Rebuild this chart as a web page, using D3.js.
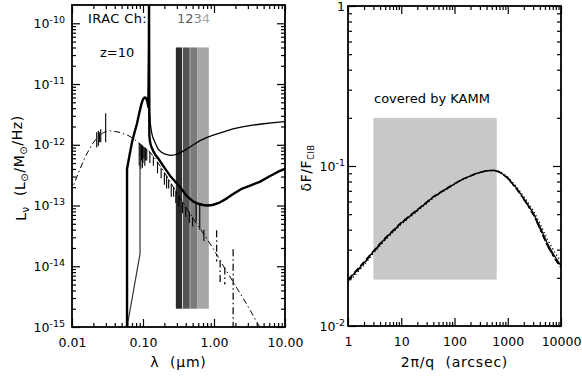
<!DOCTYPE html>
<html>
<head>
<meta charset="utf-8">
<script src="https://cdn.jsdelivr.net/npm/d3@7"></script>
<style>
  body { margin: 0; background: #fff; }
  svg { display: block; font-family: "DejaVu Sans", sans-serif; }
</style>
</head>
<body>
<svg id="chart" width="582" height="377"></svg>
<script>
// ---------- left panel: SED at z=10, L_nu vs rest wavelength (micron) ----------
const sedThick = [
  [0.0596, 1e-15], [0.0596, 4e-13], [0.065, 7e-13], [0.07, 1.1e-12], [0.076, 1.6e-12],
  [0.082, 2.2e-12], [0.088, 3.2e-12], [0.0955, 4.8e-12], [0.1, 5.6e-12], [0.105, 6e-12],
  [0.11, 5.9e-12], [0.115, 5.2e-12], [0.119, 4.2e-12], [0.1212, 5e-11], [0.1216, 4e-10],
  [0.122, 5e-11], [0.1228, 1.4e-12], [0.126, 1.1e-12], [0.13, 9.5e-13], [0.14, 7.8e-13],
  [0.15, 6.8e-13], [0.17, 5.6e-13], [0.2, 4.2e-13], [0.24, 3.1e-13], [0.3, 2.3e-13],
  [0.333, 2e-13], [0.41, 1.45e-13], [0.5, 1.18e-13], [0.6, 1.07e-13], [0.7, 1.02e-13],
  [0.8, 1e-13], [0.95, 1.02e-13], [1.2, 1.12e-13], [1.5, 1.3e-13], [1.86, 1.55e-13],
  [2.5, 1.9e-13], [3.3, 2.15e-13], [4.4, 2.45e-13], [6, 3e-13], [8, 3.6e-13], [10, 4e-13]
];
const sedThin = [
  [0.1195, 5e-12], [0.1212, 5e-11], [0.1216, 4e-10], [0.122, 5e-11], [0.1235, 3.5e-12],
  [0.127, 2.2e-12], [0.132, 1.6e-12], [0.138, 1.3e-12], [0.15, 1.05e-12], [0.163, 8.5e-13],
  [0.18, 7.6e-13], [0.2, 7.1e-13], [0.24, 6.7e-13], [0.28, 6.8e-13], [0.33, 7.3e-13],
  [0.4, 8.3e-13], [0.5, 9.8e-13], [0.635, 1.17e-12], [0.8, 1.32e-12], [1, 1.45e-12],
  [1.4, 1.65e-12], [1.85, 1.82e-12], [2.5, 1.97e-12], [3.5, 2.1e-12], [5, 2.22e-12],
  [7, 2.32e-12], [10, 2.4e-12]
];
const sedCutoff = [[0.0596, 1e-15], [0.0908, 1.6e-14], [0.0908, 1e-12]];
const sedDotDash = [
  [0.0095, 1.6e-13], [0.012, 3.2e-13], [0.015, 6e-13], [0.019, 1e-12], [0.023, 1.35e-12],
  [0.028, 1.6e-12], [0.034, 1.7e-12], [0.045, 1.62e-12], [0.06, 1.45e-12], [0.075, 1.25e-12],
  [0.086, 1.08e-12], [0.1, 9.5e-13], [0.12, 8e-13], [0.15, 5.8e-13], [0.2, 3.5e-13],
  [0.25, 2.3e-13], [0.3, 1.6e-13], [0.4, 9.5e-14], [0.5, 6.3e-14], [0.635, 4.2e-14],
  [0.8, 2.8e-14], [1, 1.85e-14], [1.4, 9.5e-15], [2, 4.8e-15], [3, 2.2e-15],
  [4.4, 1e-15], [5.5, 6.5e-16]
];
// absorption / emission features: [lambda, upper, lower]
const featuresSolid = [
  [0.0223, 1.6e-12, 9e-13], [0.0235, 1.7e-12, 9.5e-13], [0.0245, 1.6e-12, 1.1e-12],
  [0.0254, 1.8e-12, 1.1e-12], [0.0298, 3.3e-12, 1.1e-12],
  [0.0885, 1.05e-12, 4.5e-13], [0.091, 1.02e-12, 6.5e-13], [0.093, 1e-12, 4e-13],
  [0.0955, 9.8e-13, 5.5e-13], [0.098, 9.6e-13, 4.2e-13], [0.1, 9.5e-13, 5e-13],
  [0.103, 9.2e-13, 6e-13], [0.106, 9e-13, 4.5e-13], [0.109, 8.8e-13, 5.5e-13],
  [0.113, 8.5e-13, 5.5e-13], [0.125, 7.6e-13, 5e-13], [0.14, 6.4e-13, 4.5e-13],
  [0.16, 5.2e-13, 3.4e-13], [0.18, 4.2e-13, 2.8e-13], [0.2, 3.5e-13, 2.2e-13],
  [0.215, 3.1e-13, 1.9e-13], [0.23, 2.7e-13, 1.9e-13], [0.25, 2.3e-13, 1.4e-13],
  [0.27, 2e-13, 1.4e-13], [0.29, 1.75e-13, 1.1e-13], [0.32, 1.45e-13, 9.5e-14],
  [0.36, 1.15e-13, 7.5e-14], [0.4, 9.5e-14, 6.5e-14], [0.45, 8e-14, 5.2e-14],
  [0.5, 6.5e-14, 4.5e-14], [0.56, 1.1e-13, 5.5e-14], [0.63, 1.05e-13, 4e-14],
  [0.72, 4e-14, 2.6e-14]
];
const featuresDashed = [
  [1.09, 3.9e-14, 1.2e-14], [1.22, 1.24e-14, 5.2e-15], [1.42, 9.5e-15, 5e-15],
  [1.86, 1.9e-14, 5e-16]
];
const iracBands = [[0.29, 0.355], [0.364, 0.455], [0.462, 0.58], [0.58, 0.845]];
const iracColors = ["#2b2b2b", "#555555", "#7b7b7b", "#a6a6a6"];
const iracLabels = ["1", "2", "3", "4"];
const iracLabelColors = ["#666666", "#555555", "#888888", "#aaaaaa"];
const iracLum = [2e-15, 4e-11];
const lambdaTicks = [0.01, 0.1, 1, 10];
const lumTicks = [1e-15, 1e-14, 1e-13, 1e-12, 1e-11, 1e-10];

// ---------- right panel: fluctuation fraction vs angular scale ----------
const angScale = [1, 2, 3, 5, 10, 20, 40, 70, 130, 250, 400, 550, 700, 1000, 1500, 2200, 3000, 4000, 5500, 7500, 10000];
const flucSolid   = [0.0193, 0.0248, 0.0292, 0.0352, 0.0440, 0.0530, 0.0640, 0.0720, 0.0815, 0.0895, 0.0935, 0.0940, 0.0920, 0.0845, 0.0720, 0.0600, 0.0510, 0.0420, 0.0330, 0.0275, 0.0238];
const flucDashed  = [0.0196, 0.0252, 0.0295, 0.0356, 0.0445, 0.0535, 0.0645, 0.0724, 0.0818, 0.0897, 0.0936, 0.0939, 0.0917, 0.0840, 0.0712, 0.0592, 0.0500, 0.0408, 0.0320, 0.0268, 0.0232];
const flucDotted  = [0.0186, 0.0240, 0.0285, 0.0345, 0.0432, 0.0522, 0.0632, 0.0713, 0.0810, 0.0892, 0.0934, 0.0942, 0.0925, 0.0855, 0.0735, 0.0618, 0.0528, 0.0440, 0.0350, 0.0292, 0.0252];
const flucDotDash = [0.0190, 0.0245, 0.0289, 0.0349, 0.0437, 0.0527, 0.0637, 0.0717, 0.0812, 0.0893, 0.0933, 0.0938, 0.0915, 0.0836, 0.0708, 0.0588, 0.0497, 0.0405, 0.0318, 0.0265, 0.0230];
const kammScale = [3, 620];
const kammFluc = [0.0195, 0.2];
const arcsecTicks = [1, 10, 100, 1000, 10000];
const flucTicks = [0.01, 0.1, 1];

const svg = d3.select("#chart");

const xL = d3.scaleLog().domain([0.01, 10]).range([72, 285]);
const yL = d3.scaleLog().domain([1e-15, 2e-10]).range([327, 5]);
const xR = d3.scaleLog().domain([1, 10000]).range([348, 561]);
const yR = d3.scaleLog().domain([0.01, 1]).range([326, 6]);

function minorTicks(scale) {
  const [a, b] = scale.domain();
  const out = [];
  for (let e = Math.floor(Math.log10(a)); e < Math.ceil(Math.log10(b)); e++) {
    for (let k = 2; k <= 9; k++) {
      const v = k * Math.pow(10, e);
      if (v > a && v < b) out.push(v);
    }
  }
  return out;
}

function powerLabels(sel) {
  sel.selectAll(".tick text").each(function (d) {
    const t = d3.select(this);
    const e = Math.round(Math.log10(d));
    t.text(null);
    if (e === 0) { t.text("1"); return; }
    t.append("tspan").text("10");
    t.append("tspan").attr("dy", "-0.5em").attr("font-size", "9.5px").text("-" + (-e));
  });
}

function drawAxes(x, y, opt) {
  const g = svg.append("g");
  const [x0, x1] = x.range();
  const [y0, y1] = y.range();

  g.append("g").attr("transform", `translate(0,${y0})`)
    .call(d3.axisBottom(x).tickValues(opt.xMajor).tickSize(-8).tickPadding(opt.xPad).tickFormat(opt.xFmt));
  g.append("g").attr("transform", `translate(0,${y0})`)
    .call(d3.axisBottom(x).tickValues(minorTicks(x)).tickSize(-4).tickFormat(""));
  g.append("g").attr("transform", `translate(0,${y1})`)
    .call(d3.axisTop(x).tickValues(opt.xMajor).tickSize(-8).tickFormat(""));
  g.append("g").attr("transform", `translate(0,${y1})`)
    .call(d3.axisTop(x).tickValues(minorTicks(x)).tickSize(-4).tickFormat(""));

  const left = g.append("g").attr("transform", `translate(${x0},0)`)
    .call(d3.axisLeft(y).tickValues(opt.yMajor).tickSize(-8).tickPadding(opt.yPad));
  powerLabels(left);
  g.append("g").attr("transform", `translate(${x0},0)`)
    .call(d3.axisLeft(y).tickValues(minorTicks(y)).tickSize(-4).tickFormat(""));
  g.append("g").attr("transform", `translate(${x1},0)`)
    .call(d3.axisRight(y).tickValues(opt.yMajor).tickSize(-8).tickFormat(""));
  g.append("g").attr("transform", `translate(${x1},0)`)
    .call(d3.axisRight(y).tickValues(minorTicks(y)).tickSize(-4).tickFormat(""));

  g.selectAll(".domain").remove();
  g.selectAll("g").attr("font-family", "DejaVu Sans").attr("font-size", 12.5);
  g.selectAll(".tick line").attr("stroke", "#000").attr("stroke-width", 1.2);
  g.selectAll(".tick text").attr("fill", "#000");

  g.append("rect")
    .attr("x", x0).attr("y", y1)
    .attr("width", x1 - x0).attr("height", y0 - y1)
    .attr("fill", "none").attr("stroke", "#000").attr("stroke-width", 1.8);
}

// ---------- left panel ----------
svg.append("clipPath").attr("id", "clipL").append("rect")
  .attr("x", 72).attr("y", 5).attr("width", 213).attr("height", 322);

const left = svg.append("g").attr("clip-path", "url(#clipL)");

left.selectAll(".band")
  .data(iracBands)
  .enter().append("rect")
  .attr("class", "band")
  .attr("x", d => xL(d[0]))
  .attr("width", d => xL(d[1]) - xL(d[0]))
  .attr("y", yL(iracLum[1]))
  .attr("height", yL(iracLum[0]) - yL(iracLum[1]))
  .attr("fill", (d, i) => iracColors[i]);

const lineL = d3.line().x(d => xL(d[0])).y(d => yL(d[1]));

left.append("path").datum(sedDotDash).attr("d", lineL)
  .attr("fill", "none").attr("stroke", "#000").attr("stroke-width", 1)
  .attr("stroke-dasharray", "6,3,1.5,3");

left.selectAll(".featS")
  .data(featuresSolid)
  .enter().append("line")
  .attr("class", "featS")
  .attr("x1", d => xL(d[0])).attr("x2", d => xL(d[0]))
  .attr("y1", d => yL(d[1])).attr("y2", d => yL(d[2]))
  .attr("stroke", "#000").attr("stroke-width", 1.1);

left.selectAll(".featD")
  .data(featuresDashed)
  .enter().append("line")
  .attr("class", "featD")
  .attr("x1", d => xL(d[0])).attr("x2", d => xL(d[0]))
  .attr("y1", d => yL(d[1])).attr("y2", d => yL(d[2]))
  .attr("stroke", "#000").attr("stroke-width", 1.2)
  .attr("stroke-dasharray", "7,3,1.5,3");

left.append("path").datum(sedCutoff).attr("d", lineL)
  .attr("fill", "none").attr("stroke", "#333").attr("stroke-width", 1.2);

left.append("path").datum(sedThin).attr("d", lineL)
  .attr("fill", "none").attr("stroke", "#000").attr("stroke-width", 1.3);

left.append("path").datum(sedThick).attr("d", lineL)
  .attr("fill", "none").attr("stroke", "#000").attr("stroke-width", 2.4)
  .attr("stroke-linejoin", "round");

drawAxes(xL, yL, {
  xMajor: lambdaTicks, xFmt: d3.format(".2f"), xPad: 11,
  yMajor: lumTicks, yPad: 7
});

svg.append("text").attr("x", 88).attr("y", 23)
  .attr("font-size", 13).attr("letter-spacing", 0.4)
  .style("white-space", "pre").text("IRAC Ch:");

const irac = svg.append("text").attr("x", 177).attr("y", 23).attr("font-size", 13);
iracLabels.forEach((s, i) => {
  irac.append("tspan").attr("fill", iracLabelColors[i]).text(s);
});

svg.append("text").attr("x", 100).attr("y", 57).attr("font-size", 13).text("z=10");

svg.append("text")
  .attr("x", 178.5).attr("y", 367)
  .attr("text-anchor", "middle").attr("font-size", 14).attr("letter-spacing", 0.8)
  .style("white-space", "pre").text("λ  (μm)");

const ylab = svg.append("text")
  .attr("transform", "translate(26,168) rotate(-90)")
  .attr("text-anchor", "middle").attr("font-size", 14).attr("letter-spacing", 0.6)
  .style("white-space", "pre");
ylab.append("tspan").text("L");
ylab.append("tspan").attr("font-size", 10).attr("dy", "0.3em").text("ν");
ylab.append("tspan").attr("dy", "-0.3em").text("  (L");
ylab.append("tspan").attr("font-size", 10).attr("dy", "0.3em").text("⊙");
ylab.append("tspan").attr("dy", "-0.3em").text("/M");
ylab.append("tspan").attr("font-size", 10).attr("dy", "0.3em").text("⊙");
ylab.append("tspan").attr("dy", "-0.3em").text("/Hz)");

// ---------- right panel ----------
svg.append("rect")
  .attr("x", xR(kammScale[0]))
  .attr("width", xR(kammScale[1]) - xR(kammScale[0]))
  .attr("y", yR(kammFluc[1]))
  .attr("height", yR(kammFluc[0]) - yR(kammFluc[1]))
  .attr("fill", "#c8c8c8");

const lineR = d3.line().x(d => xR(d[0])).y(d => yR(d[1]));
const flucSeries = [
  { values: flucDotted, dash: "1.2,2.5", width: 1.3 },
  { values: flucDotDash, dash: "6,3,1.5,3", width: 1.2 },
  { values: flucDashed, dash: "6,3", width: 1.3 },
  { values: flucSolid, dash: null, width: 1.3 }
];
svg.append("g").selectAll("path")
  .data(flucSeries)
  .enter().append("path")
  .attr("d", s => lineR(angScale.map((a, i) => [a, s.values[i]])))
  .attr("fill", "none").attr("stroke", "#000")
  .attr("stroke-width", s => s.width)
  .attr("stroke-dasharray", s => s.dash);

drawAxes(xR, yR, {
  xMajor: arcsecTicks, xFmt: d3.format("d"), xPad: 11,
  yMajor: flucTicks, yPad: 3
});

svg.append("text").attr("x", 374).attr("y", 103).attr("font-size", 13).text("covered by KAMM");

svg.append("text")
  .attr("x", 454.5).attr("y", 367)
  .attr("text-anchor", "middle").attr("font-size", 14).attr("letter-spacing", 0.8)
  .style("white-space", "pre").text("2π/q  (arcsec)");

const rlab = svg.append("text")
  .attr("transform", "translate(311,168) rotate(-90)")
  .attr("text-anchor", "middle").attr("font-size", 14).attr("letter-spacing", 0.6);
rlab.append("tspan").text("δF/F");
rlab.append("tspan").attr("font-size", 8).attr("dy", "0.35em").text("CIB");
</script>
</body>
</html>
